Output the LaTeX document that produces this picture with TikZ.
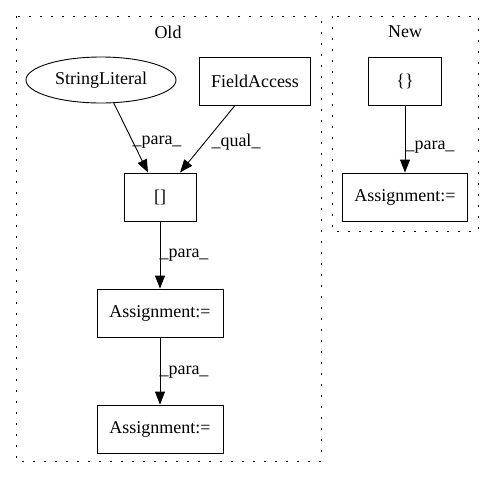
\documentclass[tikz,border=0pt]{standalone}
\usepackage{fontspec}
\setmainfont{Liberation Serif}
\usetikzlibrary{arrows.meta,shapes.geometric}
\begin{document}
\begin{tikzpicture}[x=1pt,y=-1pt,
 font=\fontsize{18}{20}\selectfont,
 box/.style={draw, line width=0.9pt, rectangle, inner sep=0pt, minimum height=48pt},
 ell/.style={draw, line width=0.9pt, ellipse, inner sep=0pt, minimum width=150pt, minimum height=46pt},
 clus/.style={draw, line width=0.9pt, dash pattern=on 2pt off 9pt},
 arr/.style={-{Triangle[length=13pt,width=10pt]}, line width=0.9pt},
 lbl/.style={inner sep=0pt}]
\useasboundingbox (0,0) rectangle (495,480);
\draw[clus] (16,16) rectangle (321,461);
\draw[clus] (332,16) rectangle (478,231);
\node[lbl] (old) at (168,32) {Old};
\node[lbl] (new) at (405,32) {New};

\node[ell] (sl) at (101,80) {StringLiteral};
\node[box, minimum width=111pt] (fa) at (255,81) {FieldAccess};
\node[box, minimum width=72pt] (br) at (160,197) {[]};
\node[box, minimum width=126pt] (a1) at (160,313) {Assignment:=};
\node[box, minimum width=126pt] (a2) at (160,429) {Assignment:=};
\node[box, minimum width=73pt] (cb) at (405,81) {\{\}};
\node[box, minimum width=125pt] (a3) at (405,197) {Assignment:=};

\draw[arr] (sl.-61) -- ([xshift=-12pt]br.north);
\draw[arr] ([xshift=-20pt]fa.south) -- ([xshift=20pt]br.north);
\draw[arr] (br) -- (a1);
\draw[arr] (a1) -- (a2);
\draw[arr] (cb) -- (a3);

\node[lbl] (l1) at (157,142) {\_para\_};
\node[lbl] (l2) at (236,142) {\_qual\_};
\node[lbl] (l3) at (184,255) {\_para\_};
\node[lbl] (l4) at (184,372) {\_para\_};
\node[lbl] (l5) at (430,147) {\_para\_};
\end{tikzpicture}
\end{document}
